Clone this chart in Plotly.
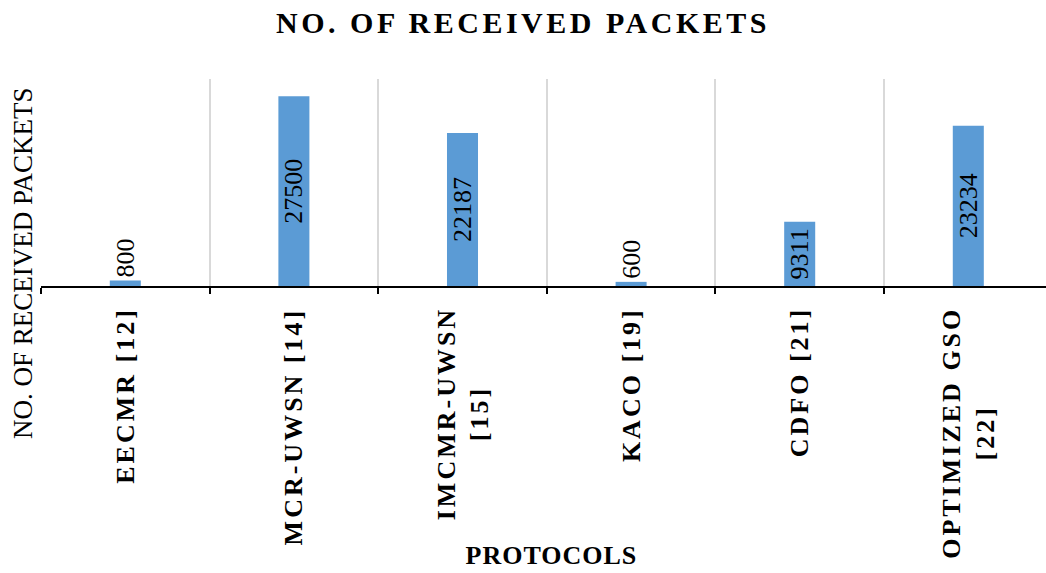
import json
import plotly.graph_objects as go

# ---------------- data ----------------
categories = ["EECMR [12]", "MCR-UWSN [14]", "IMCMR-UWSN [15]", "KACO [19]", "CDFO [21]", "OPTIMIZED GSO [22]"]
x_tick_labels = ["EECMR [12]", "MCR-UWSN [14]", "IMCMR-UWSN<br>[15]", "KACO [19]", "CDFO [21]", "OPTIMIZED GSO<br>[22]"]
received_packets = [800, 27500, 22187, 600, 9311, 23234]
chart_title = "NO. OF RECEIVED PACKETS"
y_axis_title = "NO. OF RECEIVED PACKETS"
x_axis_title = "PROTOCOLS"

# ---------------- layout constants ----------------
W, H = 1046, 573
L, T, BOT = 41, 79, 286          # plot area left / top / bottom (px)
CAT_W = 168.6                    # px per category
plot_w = W - L
plot_h = BOT - T
x_max = -0.5 + plot_w / CAT_W

BAR_COLOR = "#5B9BD5"
GRID_COLOR = "#D9D9D9"
SERIF = "Liberation Serif, Times New Roman, serif"


def paper_x(px):
    return (px - L) / plot_w


def paper_y(py):
    return (BOT - py) / plot_h


fig = go.Figure(
    go.Bar(
        x=categories,
        y=received_packets,
        width=0.184,
        marker=dict(color=BAR_COLOR, line=dict(width=0)),
        text=[str(v) for v in received_packets],
        textangle=-90,
        textposition=["inside" if v > 5000 else "outside" for v in received_packets],
        insidetextanchor="middle",
        constraintext="none",
        textfont=dict(family=SERIF, size=26, color="black"),
        cliponaxis=False,
        hoverinfo="skip",
    )
)

annotations = []
for cat, lab in zip(categories, x_tick_labels):
    annotations.append(dict(
        x=cat, xref="x", y=0, yref="paper", xanchor="center", yanchor="top",
        yshift=-19, textangle=-90, text=lab, align="center", showarrow=False,
        font=dict(family=SERIF, size=26, color="black", weight="bold"),
    ))
annotations.append(dict(
    x=paper_x(23), xref="paper", y=paper_y(263), yref="paper",
    xanchor="center", yanchor="middle", textangle=-90, text=y_axis_title,
    showarrow=False, font=dict(family=SERIF, size=27, color="black"),
))
annotations.append(dict(
    x=paper_x(551), xref="paper", y=paper_y(555), yref="paper",
    xanchor="center", yanchor="middle", text=x_axis_title,
    showarrow=False, font=dict(family=SERIF, size=26, color="black", weight="bold"),
))

fig.update_layout(
    width=W, height=H,
    margin=dict(l=L, r=0, t=T, b=H - BOT, pad=0),
    paper_bgcolor="white", plot_bgcolor="white",
    showlegend=False,
    title=dict(
        text=chart_title, x=0.5, xref="container", xanchor="center",
        y=1 - 22 / H, yref="container", yanchor="middle",
        font=dict(family=SERIF, size=30, color="black", weight="bold"),
    ),
    xaxis=dict(
        type="category", range=[-0.5, x_max], tickson="boundaries",
        ticks="outside", ticklen=6, tickwidth=1.5, tickcolor="black",
        showgrid=True, gridcolor=GRID_COLOR, gridwidth=1.5,
        showline=True, linecolor="black", linewidth=2,
        showticklabels=False, zeroline=False, fixedrange=True,
    ),
    yaxis=dict(
        range=[0, 30000], showgrid=False, zeroline=False,
        showticklabels=False, showline=False, ticks="", fixedrange=True,
    ),
    annotations=annotations,
)

spacing_cfg = {
    "annotations": [[i, 3.0, "top"] for i in range(len(categories))] + [[len(categories) + 1, 1.0, "center"]],
    "title": 3.5,
}

post_js = """
var gd = document.getElementById('{plot_id}');
var cfg = CFG_JSON;
function shiftEl(el, dx, dy){
  var t = el.getAttribute('transform') || '';
  el.setAttribute('transform', 'translate(' + dx + ',' + dy + ') ' + t);
}
function spaceEl(textEl, moveEl, px, mode){
  var b0 = textEl.getBoundingClientRect();
  textEl.style.letterSpacing = px + 'px';
  var b1 = textEl.getBoundingClientRect();
  var dx = (b0.left + b0.width / 2) - (b1.left + b1.width / 2);
  var dy = (mode === 'top') ? (b0.top - b1.top) : ((b0.top + b0.height / 2) - (b1.top + b1.height / 2));
  shiftEl(moveEl, dx, dy);
}
cfg.annotations.forEach(function(c){
  var g = gd.querySelector('g.annotation[data-index="' + c[0] + '"]');
  if (!g) return;
  var t = g.querySelector('text.annotation-text');
  if (t) spaceEl(t, g, c[1], c[2]);
});
var tt = gd.querySelector('text.gtitle');
if (tt) spaceEl(tt, tt, cfg.title, 'center');
""".replace("CFG_JSON", json.dumps(spacing_cfg))

fig.write_html("out.html", config={"displayModeBar": False}, post_script=post_js)
